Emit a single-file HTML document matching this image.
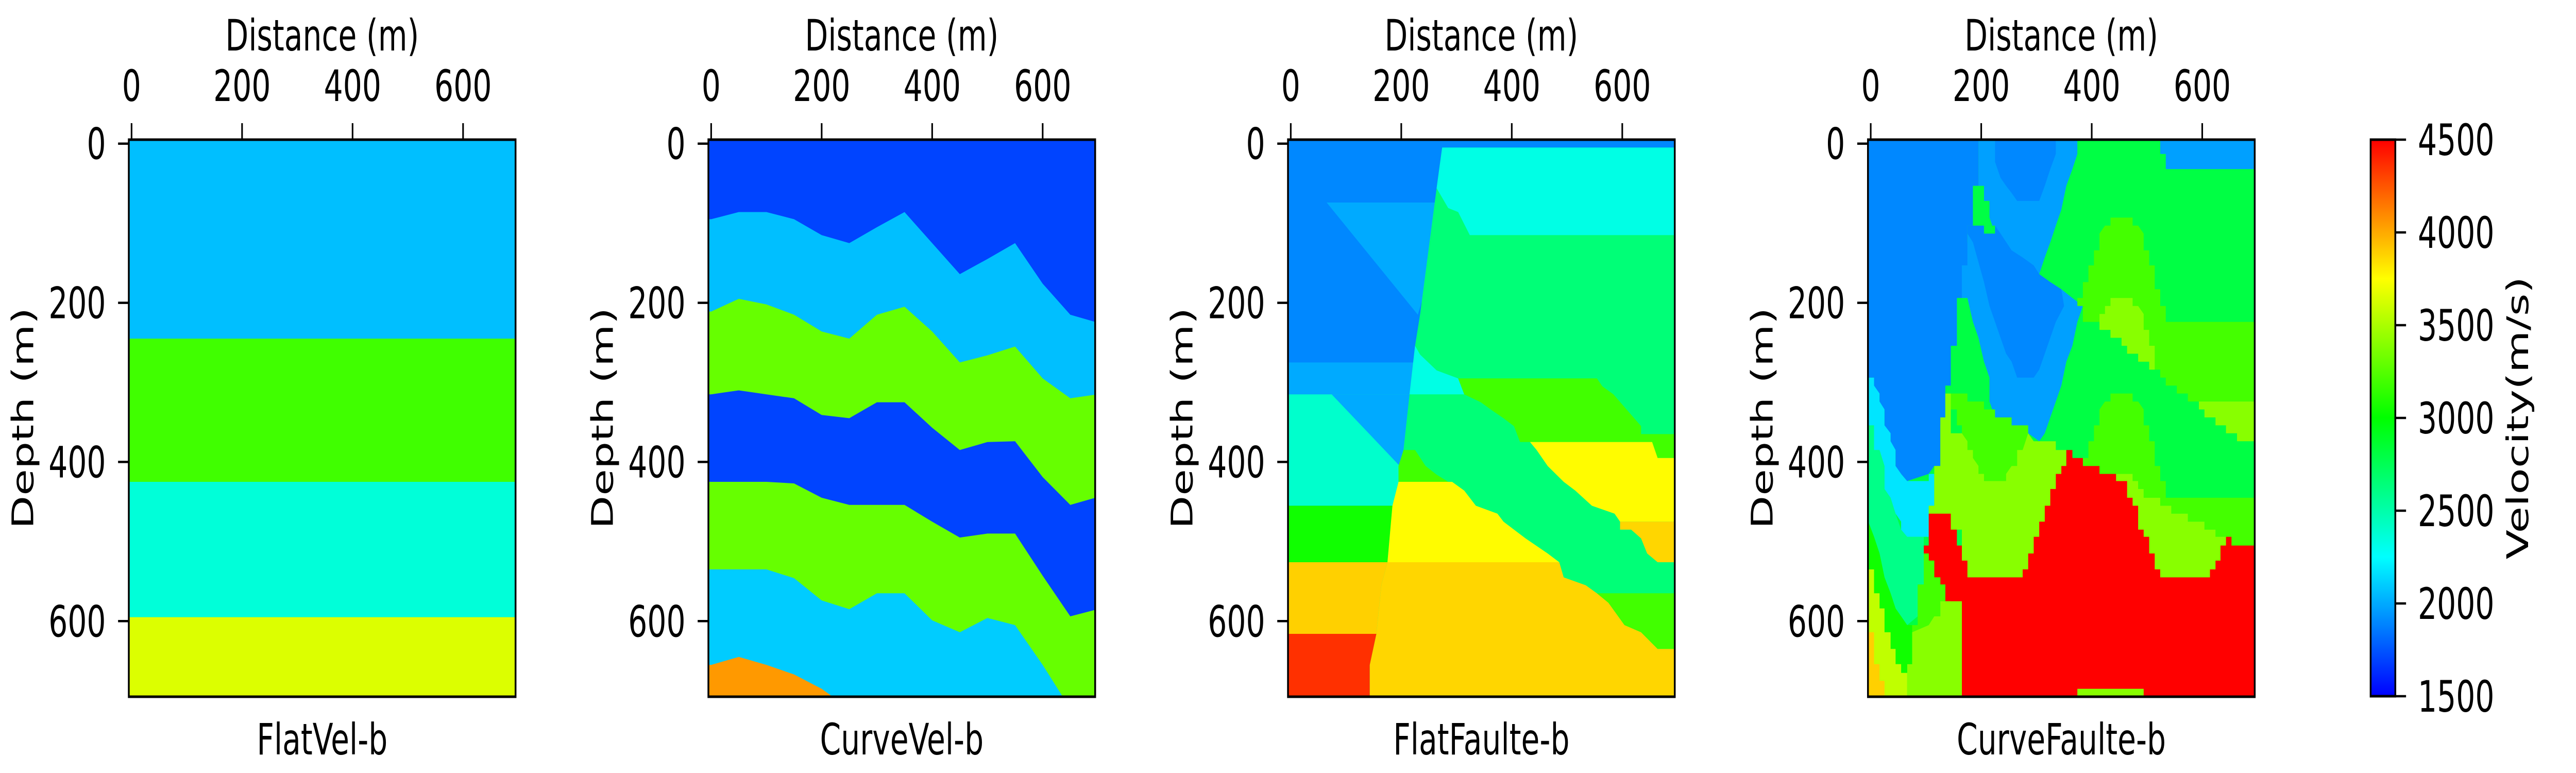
<!DOCTYPE html>
<html><head><meta charset="utf-8"><title>Velocity models</title>
<style>
html,body{margin:0;padding:0;background:#fff;width:100%;height:100%;overflow:hidden;}
svg{display:block;width:100vw;height:100vh;}
text{font-family:"DejaVu Sans","Liberation Sans",sans-serif;font-size:84px;fill:#000;}
</style></head>
<body>
<svg id="fig" xmlns="http://www.w3.org/2000/svg" viewBox="0 0 7200 1500" preserveAspectRatio="none">
<rect x="0" y="0" width="7200" height="1500" fill="#fff"/>
</svg>
<script>
// ---- data ----
const panelTitles = ["FlatVel-b","CurveVel-b","FlatFaulte-b","CurveFaulte-b"];
const xTicks = [0,200,400,600];
const yTicks = [0,200,400,600];
const cbTicks = [1500,2000,2500,3000,3500,4000,4500];
const cmapVals = [1500,2250,3000,3750,4500];
const cmapCols = [[0,0,255],[0,255,255],[0,255,0],[255,255,0],[255,0,0]];

// FlatVel-b: flat layers (top depth, velocity)
const flatVelTops = [-10,245,425,595];
const flatVelVels = [2062,3188,2362,3647];

// CurveVel-b: layer top boundaries sampled at curveXs
const curveXs = [0,50,100,150,200,250,300,350,400,450,500,550,600,650,700];
const curveVelVels = [1700,2062,3300,1700,3300,2100,4050];
const curveB0 = [-10,-10,-10,-10,-10,-10,-10,-10,-10,-10,-10,-10,-10,-10,-10];
const curveB1 = [95,86,86,95,115,125,105,86,125,164,145,125,176,215,225];
const curveB2 = [211,195,202,215,236,245,215,205,236,275,266,255,295,320,315];
const curveB3 = [315,310,315,320,341,345,325,325,357,385,375,374,419,454,444];
const curveB4 = [425,425,425,427,445,454,454,454,475,495,490,490,543,594,585];
const curveB5 = [535,535,535,546,574,585,565,565,599,614,596,605,655,710,710];
const curveB6 = [655,645,655,667,685,710,710,710,710,710,710,710,710,710,710];

// FlatFaulte-b: polygons in metres (distance, depth) painted in order
const ffVels = [1900,2000,2000,2400,2000,3047,3888,4360,2650,2326,2326,3190,3760,3870,3190,3760,3870,3190];
const ffShapes = [
 [[-10,-10],[710,-10],[710,710],[-10,710]],
 [[65,74],[290,74],[230,215]],
 [[-10,275],[300,275],[300,315],[-10,315]],
 [[-10,315],[300,315],[300,455],[-10,455]],
 [[74,315],[300,315],[204,410]],
 [[-10,455],[300,455],[300,526],[-10,526]],
 [[-10,526],[300,526],[300,616],[-10,616]],
 [[-10,616],[300,616],[300,710],[-10,710]],
 [[274,5],[710,5],[710,710],[143,710],[143,655],[155,616],[164,555],[175,526],[184,455],[195,425],[204,385],[215,315],[225,254],[234,215],[264,56]],
 [[274,5],[710,5],[710,115],[324,115],[303,86],[285,81],[264,56]],
 [[225,254],[234,265],[264,285],[303,295],[314,315],[215,315]],
 [[303,295],[554,295],[564,305],[584,315],[634,355],[634,365],[710,365],[710,395],[664,395],[654,375],[415,375],[404,355],[385,345],[364,335],[344,325],[314,315]],
 [[433,375],[654,375],[664,395],[710,395],[710,475],[596,475],[586,465],[545,455],[515,436],[494,425],[465,405],[445,385]],
 [[596,475],[710,475],[710,526],[664,526],[645,515],[634,496],[616,485],[596,485]],
 [[204,385],[225,385],[244,405],[264,416],[285,425],[195,425],[195,405]],
 [[195,425],[292,425],[314,436],[335,455],[374,465],[385,475],[425,496],[465,515],[486,526],[175,526],[184,455]],
 [[175,526],[486,526],[494,545],[534,555],[554,565],[575,577],[604,605],[634,614],[664,635],[710,635],[710,710],[143,710],[143,655],[155,616],[164,555]],
 [[554,565],[710,565],[710,635],[664,635],[634,614],[604,605],[575,577]]
];

// CurveFaulte-b: polygons in metres painted in order
const cfVels = [2800,1970,1970,1900,1900,2600,2174,1900,2800,1970,3200,3400,3400,3200,3400,3400,3200,4500,3200,3400,3047,3565,3888,3400];
const cfShapes = [
 [[-10,-10],[710,-10],[710,710],[-10,710]],
 [[195,-10],[374,-10],[374,13],[365,32],[354,53],[345,83],[335,103],[325,124],[315,143],[305,164],[295,174],[265,153],[245,134],[225,113],[215,93],[205,83],[195,72]],
 [[175,103],[225,103],[235,113],[255,134],[275,143],[295,153],[305,164],[325,174],[345,183],[365,194],[384,204],[374,224],[365,254],[354,274],[345,304],[335,324],[325,344],[315,364],[305,374],[285,364],[255,354],[225,344],[215,324],[215,294],[205,274],[195,244],[185,224],[175,194],[165,194],[165,153],[175,124]],
 [[175,103],[225,103],[235,113],[255,134],[275,143],[295,153],[305,164],[325,174],[345,183],[350,204],[335,224],[325,244],[315,264],[305,284],[295,294],[265,294],[255,274],[245,264],[235,244],[225,224],[215,204],[205,174],[185,124],[175,113]],
 [[225,-10],[335,-10],[335,13],[325,32],[315,53],[305,72],[265,72],[255,62],[245,53],[235,43],[225,23]],
 [[-10,354],[6,354],[6,385],[16,385],[25,405],[25,434],[36,445],[45,465],[55,485],[66,494],[96,494],[96,554],[85,554],[85,594],[66,605],[55,594],[45,584],[36,565],[25,545],[16,515],[6,494],[-10,465]],
 [[-10,294],[6,294],[6,304],[16,304],[16,324],[25,324],[25,354],[36,354],[36,374],[45,374],[45,405],[55,405],[55,415],[66,424],[105,424],[105,415],[115,415],[115,455],[105,455],[105,494],[66,494],[55,485],[55,475],[45,465],[36,445],[25,434],[25,405],[16,385],[6,385],[6,354],[-10,354]],
 [[-10,-10],[195,-10],[195,53],[185,53],[185,103],[175,103],[175,153],[165,153],[165,194],[156,194],[156,254],[145,254],[145,304],[135,304],[135,354],[126,354],[126,405],[115,405],[105,415],[66,424],[55,415],[45,405],[45,385],[36,374],[36,364],[25,354],[25,334],[16,324],[16,314],[6,304],[6,294],[-10,294]],
 [[185,53],[205,53],[205,72],[215,72],[215,103],[225,103],[225,113],[205,113],[205,103],[185,103]],
 [[524,-10],[710,-10],[710,32],[534,32],[534,13],[524,13]],
 [[434,93],[474,93],[474,103],[484,103],[494,113],[494,134],[504,134],[504,153],[514,153],[514,183],[524,183],[524,204],[534,204],[534,224],[710,224],[710,324],[574,324],[574,314],[554,314],[554,304],[534,304],[534,294],[524,294],[524,284],[504,284],[504,274],[484,274],[484,264],[464,264],[464,254],[454,254],[454,244],[434,244],[434,234],[414,234],[414,224],[384,224],[384,204],[374,204],[374,194],[384,194],[384,174],[394,174],[394,153],[404,153],[404,134],[414,134],[414,113],[424,103],[434,103]],
 [[434,194],[474,194],[474,204],[484,204],[494,214],[494,234],[504,234],[504,254],[514,254],[514,284],[504,284],[504,274],[484,274],[484,264],[464,264],[464,254],[454,254],[454,244],[434,244],[434,234],[414,234],[414,214],[424,214],[424,204],[434,204]],
 [[594,324],[710,324],[710,374],[663,374],[663,364],[643,364],[643,354],[624,354],[624,344],[604,344],[604,334],[594,334]],
 [[434,314],[474,314],[474,324],[484,324],[494,334],[494,354],[504,354],[504,374],[514,374],[514,405],[524,405],[524,424],[534,424],[534,445],[710,445],[710,505],[653,505],[653,494],[624,494],[624,485],[604,485],[604,475],[574,475],[574,465],[544,465],[544,455],[524,455],[524,445],[494,445],[494,434],[484,434],[484,424],[474,424],[474,415],[414,415],[414,405],[384,405],[384,395],[394,395],[394,374],[404,374],[404,354],[414,354],[414,334],[424,324],[434,324]],
 [[444,415],[474,415],[474,424],[484,424],[484,434],[494,434],[494,445],[524,445],[524,455],[544,455],[544,465],[574,465],[574,475],[604,475],[604,485],[624,485],[624,494],[653,494],[653,545],[444,545]],
 [[135,314],[145,314],[145,364],[285,364],[295,374],[335,374],[335,385],[354,385],[354,545],[165,545],[165,485],[105,485],[105,455],[115,455],[115,405],[126,405],[126,344],[135,344]],
 [[145,314],[175,314],[175,324],[205,324],[205,334],[225,334],[225,344],[255,344],[255,354],[285,354],[285,364],[275,385],[265,385],[265,405],[255,405],[245,415],[245,424],[205,424],[205,415],[195,415],[195,405],[185,395],[185,385],[175,385],[175,374],[165,364],[165,354],[156,354],[156,334],[145,334]],
 [[354,385],[365,385],[365,395],[384,395],[384,405],[414,405],[414,415],[444,415],[444,424],[464,424],[464,445],[474,445],[474,455],[484,455],[484,485],[494,485],[494,494],[504,494],[504,515],[514,515],[514,535],[524,535],[524,545],[614,545],[614,535],[624,535],[624,524],[633,524],[633,505],[643,505],[643,494],[653,494],[653,505],[710,505],[710,710],[145,710],[145,675],[156,675],[156,654],[165,654],[165,605],[156,605],[156,594],[145,594],[145,575],[135,575],[135,554],[126,554],[126,545],[115,545],[115,524],[105,524],[105,515],[96,515],[96,505],[105,505],[105,465],[145,465],[145,485],[156,485],[156,505],[165,505],[165,524],[175,524],[175,545],[275,545],[275,535],[285,535],[285,515],[295,515],[295,494],[305,494],[305,475],[315,475],[315,455],[325,455],[325,434],[335,434],[335,415],[345,415],[345,405],[354,405]],
 [[96,515],[105,515],[105,524],[115,524],[115,545],[126,545],[126,554],[135,554],[135,575],[126,575],[126,594],[115,594],[105,605],[75,614],[75,605],[85,605],[85,554],[96,554]],
 [[66,710],[66,654],[75,654],[75,614],[105,605],[115,594],[126,594],[126,575],[165,575],[165,710]],
 [[-10,465],[6,494],[16,515],[25,545],[36,565],[45,584],[55,594],[66,605],[75,605],[75,654],[66,654],[66,665],[55,665],[55,654],[45,654],[45,635],[36,635],[36,614],[25,614],[25,584],[16,584],[16,565],[6,565],[6,535],[-10,535]],
 [[-10,535],[6,535],[6,565],[16,565],[16,584],[25,584],[25,614],[36,614],[36,635],[45,635],[45,654],[55,654],[55,665],[66,665],[66,710],[-10,710]],
 [[-10,614],[6,614],[6,654],[16,654],[16,675],[25,675],[25,710],[-10,710]],
 [[374,685],[494,685],[494,710],[374,710]]
];

// ---- layout ----
const NS = "http://www.w3.org/2000/svg";
const svg = document.getElementById("fig");
const panelLeft = [360,1980,3600,5221];
const panelTop = 271, panelSize = 1081;
const domMin = -5, domMax = 695;
const k = panelSize/(domMax-domMin);
function xScale(p, m){ return panelLeft[p] + (m-domMin)*k; }
function yScale(m){ return panelTop + (m-domMin)*k; }
function vColor(v){
  v = Math.max(cmapVals[0], Math.min(cmapVals[cmapVals.length-1], v));
  for(let i=0;i<cmapVals.length-1;i++){
    if(v<=cmapVals[i+1]){
      const t=(v-cmapVals[i])/(cmapVals[i+1]-cmapVals[i]);
      const a=cmapCols[i], b=cmapCols[i+1];
      return "rgb("+Math.round(a[0]+(b[0]-a[0])*t)+","+Math.round(a[1]+(b[1]-a[1])*t)+","+Math.round(a[2]+(b[2]-a[2])*t)+")";
    }
  }
  return "rgb(255,0,0)";
}
function mk(tag, attrs, parent){
  const e=document.createElementNS(NS,tag);
  for(const key in attrs) e.setAttribute(key, attrs[key]);
  (parent||svg).appendChild(e);
  return e;
}
function txt(str, attrs, parent){ const t=mk("text",attrs,parent); t.textContent=str; return t; }

const defs = mk("defs",{});
function drawPoly(p, g, pts, v, name){
  const s = pts.map(q => xScale(p,q[0]).toFixed(1)+","+yScale(q[1]).toFixed(1)).join(" ");
  const e = mk("polygon",{points:s, fill:vColor(v), stroke:"none"}, g);
  
  
}

for(let p=0;p<4;p++){
  const cp = mk("clipPath",{id:"clip"+p}, defs);
  mk("rect",{x:panelLeft[p], y:panelTop, width:panelSize, height:panelSize}, cp);
  const g = mk("g",{"clip-path":"url(#clip"+p+")"});
  
  
  if(p===0){
    flatVelTops.forEach((t,i)=>{
      drawPoly(p,g,[[-10,t],[710,t],[710,710],[-10,710]], flatVelVels[i], 'layer-'+(i+1));
    });
  } else if(p===1){
    const bounds=[curveB0,curveB1,curveB2,curveB3,curveB4,curveB5,curveB6];
    bounds.forEach((b,i)=>{
      const pts=[[-10,b[0]]];
      curveXs.forEach((x,j)=>pts.push([x,b[j]]));
      pts.push([710,b[b.length-1]],[710,720],[-10,720]);
      drawPoly(p,g,pts,curveVelVels[i],'layer-'+(i+1));
    });
  } else if(p===2){
    ffShapes.forEach((s,i)=>drawPoly(p,g,s,ffVels[i],'region-'+(i+1)));
  } else {
    cfShapes.forEach((s,i)=>drawPoly(p,g,s,cfVels[i],'region-'+(i+1)));
  }
  const frame = mk("rect",{x:panelLeft[p], y:panelTop, width:panelSize, height:panelSize, fill:"none", stroke:"#000","stroke-width":5});
  
  
  xTicks.forEach(t=>{
    const x=xScale(p,t);
    const tk=mk("line",{x1:x,x2:x,y1:panelTop-32,y2:panelTop,stroke:"#000","stroke-width":4.5});
    
    
    const lb=txt(String(t),{x:x,y:196,"text-anchor":"middle"});
    
    
  });
  yTicks.forEach(t=>{
    const y=yScale(t);
    const tk=mk("line",{x1:panelLeft[p]-30,x2:panelLeft[p],y1:y,y2:y,stroke:"#000","stroke-width":4.5});
    
    
    const lb=txt(String(t),{x:panelLeft[p]-64,y:y+30,"text-anchor":"end"});
    
    
  });
  const cx = panelLeft[p]+panelSize/2;
  const xt=txt("Distance (m)",{x:cx,y:98,"text-anchor":"middle"});
  
  
  const yx=panelLeft[p]-297, yy=panelTop+panelSize/2;
  const yt=txt("Depth (m)",{x:yx,y:yy+30,"text-anchor":"middle",transform:"rotate(-90 "+yx+" "+yy+")"});
  
  
  const tt=txt(panelTitles[p],{x:cx,y:1464,"text-anchor":"middle"});
  
  
}

// ---- colorbar ----
const cbX=6626, cbW=69, cbTop=271, cbH=1080;
const grad = mk("linearGradient",{id:"cbgrad",x1:"0",y1:"1",x2:"0",y2:"0"},defs);
cmapVals.forEach((v,i)=>{
  mk("stop",{offset:((v-cmapVals[0])/(cmapVals[cmapVals.length-1]-cmapVals[0])),"stop-color":vColor(v)},grad);
});
const cb = mk("rect",{x:cbX,y:cbTop,width:cbW,height:cbH,fill:"url(#cbgrad)",stroke:"#000","stroke-width":5});


function cbY(v){ return cbTop+cbH-(v-cbTicks[0])/(cbTicks[cbTicks.length-1]-cbTicks[0])*cbH; }
cbTicks.forEach(t=>{
  const y=cbY(t);
  const tk=mk("line",{x1:cbX+cbW,x2:cbX+cbW+30,y1:y,y2:y,stroke:"#000","stroke-width":4.5});
  
  
  const lb=txt(String(t),{x:6758,y:y+30,"text-anchor":"start"});
  
  
});
const clx=7036, cly=811;
const cl=txt("Velocity(m/s)",{x:clx,y:cly+30,"text-anchor":"middle",transform:"rotate(-90 "+clx+" "+cly+")"});


</script>
</body></html>
